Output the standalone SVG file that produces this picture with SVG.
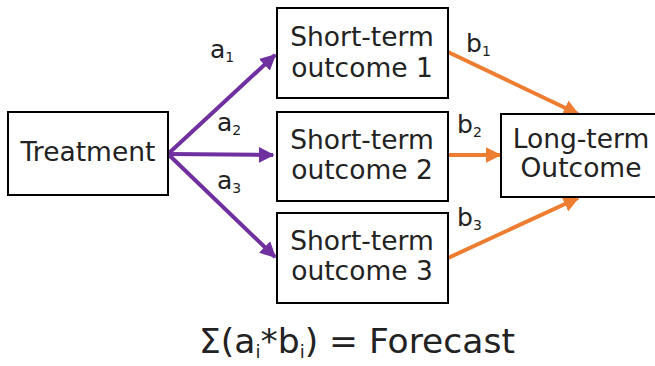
<svg xmlns="http://www.w3.org/2000/svg" width="655" height="366" viewBox="0 0 655 366">
<defs>
<style>
.box{fill:#fff;stroke:#000;stroke-width:2}
.t{font-family:"DejaVu Sans",Verdana,sans-serif;font-size:26.5px;fill:#222;text-anchor:middle}
.lbl{font-family:"DejaVu Sans",Verdana,sans-serif;font-size:25px;fill:#222}
.sub{font-size:14px}
.p{stroke:#7030A0;stroke-width:4;fill:none}
.o{stroke:#ED7D31;stroke-width:4;fill:none}
</style>
<marker id="hp" viewBox="0 0 10 10" refX="9" refY="5" markerWidth="4" markerHeight="4" orient="auto" markerUnits="strokeWidth"><path d="M0,0 L10,5 L0,10 Z" fill="#7030A0"/></marker>
<marker id="ho" viewBox="0 0 10 10" refX="9" refY="5" markerWidth="4" markerHeight="4" orient="auto" markerUnits="strokeWidth"><path d="M0,0 L10,5 L0,10 Z" fill="#ED7D31"/></marker>
</defs>
<g id="connectors">
<line class="p" x1="168" y1="154" x2="275" y2="55" marker-end="url(#hp)"/>
<line class="p" x1="168" y1="154" x2="273" y2="155" marker-end="url(#hp)"/>
<line class="p" x1="168" y1="154" x2="275" y2="257" marker-end="url(#hp)"/>
<line class="o" x1="448" y1="52" x2="578" y2="114" marker-end="url(#ho)"/>
<line class="o" x1="448" y1="155" x2="500" y2="155" marker-end="url(#ho)"/>
<line class="o" x1="448" y1="258" x2="578" y2="198" marker-end="url(#ho)"/>
<text class="lbl" x="210" y="58">a<tspan class="sub" dy="4">1</tspan></text>
<text class="lbl" x="217" y="131">a<tspan class="sub" dy="4">2</tspan></text>
<text class="lbl" x="217" y="189">a<tspan class="sub" dy="4">3</tspan></text>
<text class="lbl" x="466" y="52">b<tspan class="sub" dy="4">1</tspan></text>
<text class="lbl" x="457" y="133">b<tspan class="sub" dy="4">2</tspan></text>
<text class="lbl" x="457" y="226">b<tspan class="sub" dy="4">3</tspan></text>
</g>
<g id="treatment">
<rect class="box" x="8" y="112" width="160" height="83"/>
<text class="t" x="88" y="161">Treatment</text>
</g>
<g id="short1">
<rect class="box" x="277" y="8" width="171" height="90"/>
<text class="t" x="362" y="46">Short-term</text>
<text class="t" x="362" y="77">outcome 1</text>
</g>
<g id="short2">
<rect class="box" x="277" y="112" width="171" height="89"/>
<text class="t" x="362" y="149">Short-term</text>
<text class="t" x="362" y="179">outcome 2</text>
</g>
<g id="short3">
<rect class="box" x="277" y="213" width="171" height="90"/>
<text class="t" x="362" y="250">Short-term</text>
<text class="t" x="362" y="280">outcome 3</text>
</g>
<g id="longterm">
<rect class="box" x="501" y="114" width="162" height="83"/>
<text class="t" x="581" y="148">Long-term</text>
<text class="t" x="581" y="177">Outcome</text>
</g>
<text x="357" y="353" text-anchor="middle" font-family="DejaVu Sans, Verdana, sans-serif" font-size="34.5" fill="#222">Σ(a<tspan font-size="18" dy="5">i</tspan><tspan dy="-5">*b</tspan><tspan font-size="18" dy="5">i</tspan><tspan dy="-5">) = Forecast</tspan></text>
</svg>
